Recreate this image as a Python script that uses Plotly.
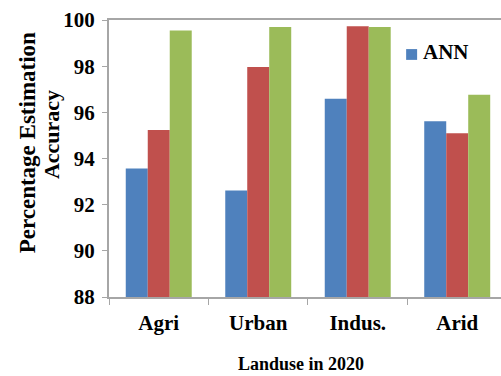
import plotly.graph_objects as go

categories = ["Agri", "Urban", "Indus.", "Arid"]
ann_values = [93.57, 92.61, 96.59, 95.61]
model2_values = [95.24, 97.96, 99.73, 95.09]
model3_values = [99.55, 99.70, 99.70, 96.76]

y_ticks = [88, 90, 92, 94, 96, 98, 100]

FONT = "Liberation Serif"
AXIS_GRAY = "#A6A6A6"
BLUE, RED, GREEN = "#4F81BD", "#C0504D", "#9BBB59"

fig = go.Figure()
for vals, color, name in [(ann_values, BLUE, "ANN"),
                          (model2_values, RED, "Model 2"),
                          (model3_values, GREEN, "Model 3")]:
    fig.add_trace(go.Bar(x=categories, y=vals, name=name,
                         marker=dict(color=color, line=dict(width=0)),
                         showlegend=False))

fig.update_layout(
    width=501, height=376,
    margin=dict(l=109, r=0, t=20, b=79),
    paper_bgcolor="white", plot_bgcolor="white",
    barmode="group", bargap=0.337, bargroupgap=0,
    font=dict(family=FONT, color="black"),
    xaxis=dict(
        range=[-0.5, 3.44], tickson="boundaries", ticks="outside",
        ticklen=6, tickcolor=AXIS_GRAY, showline=True, linecolor=AXIS_GRAY,
        linewidth=2, mirror=True, showgrid=False,
        tickfont=dict(family=FONT, size=21, weight="bold"),
        ticklabelstandoff=6,
    ),
    yaxis=dict(
        range=[88, 100], tickvals=y_ticks, ticks="outside", ticklen=5,
        tickcolor=AXIS_GRAY, showline=True, linecolor=AXIS_GRAY,
        linewidth=2, showgrid=False, zeroline=False,
        tickfont=dict(family=FONT, size=21, weight="bold"),
        ticklabelstandoff=3,
    ),
)

# x-axis title, anchored to the bottom edge of the figure
fig.add_annotation(text="Landuse in 2020", xref="paper", yref="paper",
                   x=0.49, y=-0.286,
                   showarrow=False, xanchor="center", yanchor="bottom",
                   font=dict(family=FONT, size=18, weight="bold"))

# two-line rotated y-axis title
fig.add_annotation(text="Percentage Estimation", textangle=-90,
                   xref="paper", yref="paper", x=-0.209, y=0.555,
                   showarrow=False, xanchor="center", yanchor="middle",
                   font=dict(family=FONT, size=23, weight="bold"))
fig.add_annotation(text="Accuracy", textangle=-90,
                   xref="paper", yref="paper", x=-0.145, y=0.585,
                   showarrow=False, xanchor="center", yanchor="middle",
                   font=dict(family=FONT, size=22, weight="bold"))

# legend key for the ANN series
fig.add_shape(type="rect", xref="paper", yref="paper",
              x0=0.758, x1=0.786, y0=0.856, y1=0.895,
              fillcolor=BLUE, line=dict(width=0))
fig.add_annotation(text="ANN", xref="paper", yref="paper",
                   x=0.796, y=0.884, showarrow=False,
                   xanchor="left", yanchor="middle",
                   font=dict(family=FONT, size=21, weight="bold"))

fig.write_html("out.html")
